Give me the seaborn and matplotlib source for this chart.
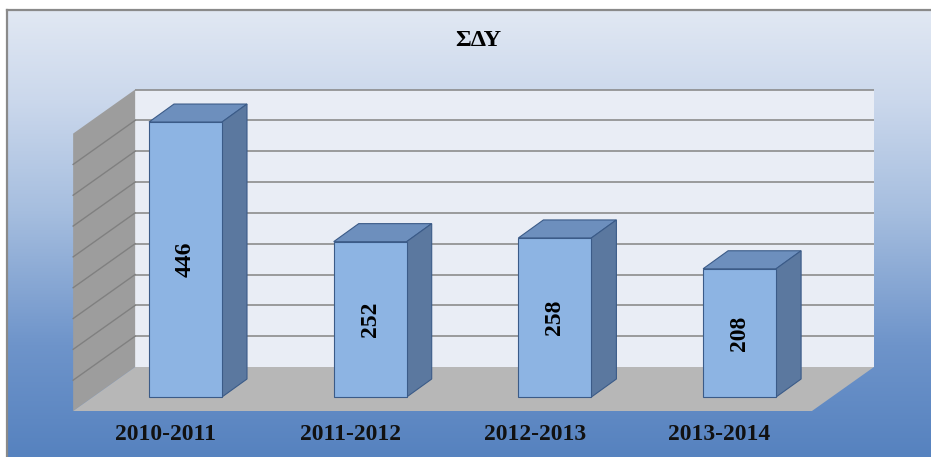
#!/usr/bin/env python3

import numpy as np
import matplotlib
matplotlib.use('Agg')
import matplotlib.pyplot as plt
from matplotlib.colors import LinearSegmentedColormap
from matplotlib.lines import Line2D
from matplotlib.patches import Polygon
import seaborn as sns

# Data
periods = ['2010-2011', '2011-2012', '2012-2013', '2013-2014']
counts = [446, 252, 258, 208]
chart_title = 'ΣΔΥ'
grid_values = [50, 100, 150, 200, 250, 300, 350, 400, 450]
axis_max = 450

# Layout (pixels of the 931x457 output)
W_PX, H_PX = 931, 457
CAT_PX = 184.7          # pixels per category step
VAL_PX = 0.6165         # pixels per value unit
ORIGIN_X, ORIGIN_Y = 185.5, 397   # pixel of category 0, value 0 (front plane)

SERIF = ['Liberation Serif', 'DejaVu Serif']

# Colours
BAR_FRONT = '#8db4e3'
BAR_TOP = '#6d8fbd'
BAR_SIDE = '#5b789f'
BAR_EDGE = '#3b5b88'
WALL_BACK = '#e9edf5'
WALL_LEFT = '#9d9d9d'
FLOOR = '#b7b7b7'
GRID = '#8c8c8c'


def dx(px):
    """Horizontal pixel offset -> category units."""
    return px / CAT_PX


def dv(px):
    """Upward pixel offset -> value units."""
    return px / VAL_PX


# depth offsets of the pseudo 3D planes
WALL_DX, WALL_DV = dx(42), dv(30)
FRONT_DX, FRONT_DV = dx(-20), dv(-14)
BAR_DX, BAR_DV = dx(25), dv(18)


def draw_background(fig):
    """Vertical blue gradient with grey frame on top and left."""
    left = 7 / W_PX
    top = 1 - 10 / H_PX
    bg = fig.add_axes([left, 0, 1 - left, top])
    cmap = LinearSegmentedColormap.from_list('bg', [
        (0.0, '#5682bf'), (0.25, '#6e94ca'), (0.55, '#a6bedf'),
        (0.8, '#cbd8ec'), (1.0, '#e1e8f3')])
    grad = np.linspace(0, 1, 256).reshape(-1, 1)
    bg.imshow(grad, cmap=cmap, aspect='auto', origin='lower', extent=(0, 1, 0, 1))
    bg.set_axis_off()
    fig.add_artist(Line2D([left, 1], [top, top], transform=fig.transFigure,
                          color='#8a8a8a', linewidth=1.6))
    fig.add_artist(Line2D([left, left], [0, top], transform=fig.transFigure,
                          color='#8a8a8a', linewidth=1.6))


def draw_walls(ax, n):
    """Back wall, left wall, floor and gridlines."""
    x0, x1 = -0.5, n - 0.5
    back = [(x0 + WALL_DX, WALL_DV), (x1 + WALL_DX, WALL_DV),
            (x1 + WALL_DX, axis_max + WALL_DV), (x0 + WALL_DX, axis_max + WALL_DV)]
    side = [(x0 + FRONT_DX, FRONT_DV), (x0 + WALL_DX, WALL_DV),
            (x0 + WALL_DX, axis_max + WALL_DV), (x0 + FRONT_DX, axis_max + FRONT_DV)]
    floor = [(x0 + FRONT_DX, FRONT_DV), (x1 + FRONT_DX, FRONT_DV),
             (x1 + WALL_DX, WALL_DV), (x0 + WALL_DX, WALL_DV)]
    ax.add_patch(Polygon(back, closed=True, facecolor=WALL_BACK, edgecolor='none', zorder=0.5))
    ax.add_patch(Polygon(side, closed=True, facecolor=WALL_LEFT, edgecolor='none', zorder=0.5))
    ax.add_patch(Polygon(floor, closed=True, facecolor=FLOOR, edgecolor='none', zorder=0.6))

    for g in grid_values:
        ax.plot([x0 + WALL_DX, x1 + WALL_DX], [g + WALL_DV, g + WALL_DV],
                color=GRID, linewidth=1.2, zorder=0.7, solid_capstyle='butt')
        if g < axis_max:
            ax.plot([x0 + FRONT_DX, x0 + WALL_DX], [g + FRONT_DV, g + WALL_DV],
                    color='#808080', linewidth=1.0, zorder=0.7)


def draw_bars(ax):
    """Front faces via seaborn, then the top and side faces."""
    sns.barplot(x=periods, y=counts, color=BAR_FRONT, saturation=1,
                width=73 / CAT_PX, edgecolor=BAR_EDGE, linewidth=0.8,
                errorbar=None, ax=ax)

    for p, val in zip(ax.patches, counts):
        p.set_zorder(3)
        x, w, h = p.get_x(), p.get_width(), p.get_height()
        top = [(x, h), (x + w, h), (x + w + BAR_DX, h + BAR_DV), (x + BAR_DX, h + BAR_DV)]
        right = [(x + w, 0), (x + w + BAR_DX, BAR_DV), (x + w + BAR_DX, h + BAR_DV), (x + w, h)]
        ax.add_patch(Polygon(top, closed=True, facecolor=BAR_TOP, edgecolor=BAR_EDGE,
                             linewidth=0.8, zorder=2.9))
        ax.add_patch(Polygon(right, closed=True, facecolor=BAR_SIDE, edgecolor=BAR_EDGE,
                             linewidth=0.8, zorder=2.9))
        ax.text(x + w / 2, h / 2, str(val), rotation=90, ha='center', va='center',
                rotation_mode='anchor', fontsize=17, fontweight='bold',
                family=SERIF, color='black', zorder=4)


def main():
    fig = plt.figure(figsize=(W_PX / 100, H_PX / 100), dpi=100)
    draw_background(fig)

    ax = fig.add_axes([0, 0, 1, 1])
    draw_bars(ax)
    draw_walls(ax, len(periods))

    # category labels sit on the front edge of the floor
    for i, label in enumerate(periods):
        ax.text(i + FRONT_DX, FRONT_DV - dv(24), label, ha='center', va='center',
                fontsize=17, fontweight='bold', family=SERIF, color='#111111')

    ax.set_xlim(-ORIGIN_X / CAT_PX, (W_PX - ORIGIN_X) / CAT_PX)
    ax.set_ylim((ORIGIN_Y - H_PX) / VAL_PX, ORIGIN_Y / VAL_PX)
    ax.set_axis_off()

    fig.text(478 / W_PX, 1 - 41 / H_PX, chart_title, ha='center', va='center',
             fontsize=17.5, fontweight='bold', family=SERIF, color='black')

    fig.savefig('out.png', dpi=100)
    plt.close(fig)


if __name__ == "__main__":
    main()
